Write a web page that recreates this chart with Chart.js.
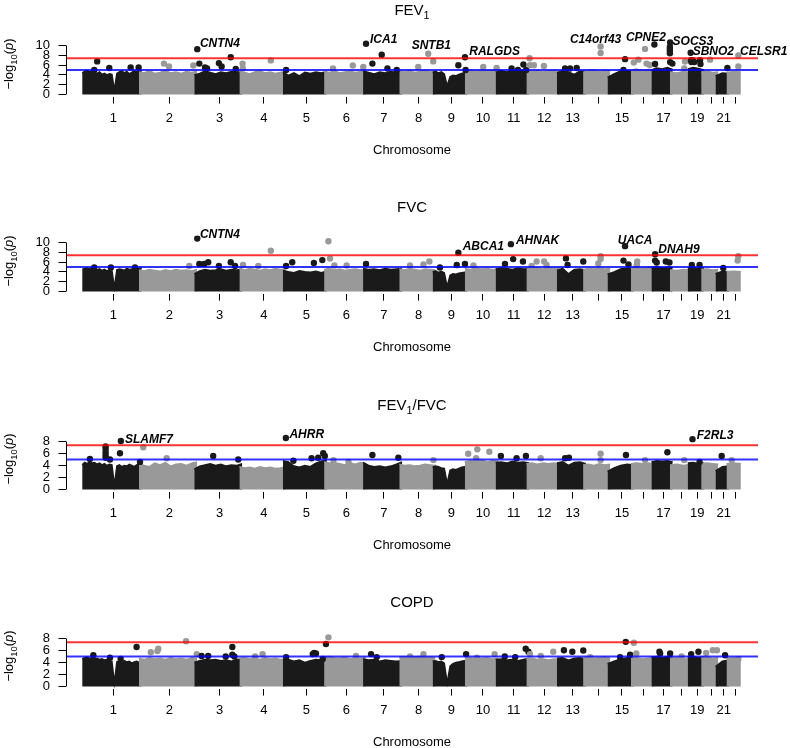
<!DOCTYPE html>
<html>
<head>
<meta charset="utf-8">
<script src="https://cdn.jsdelivr.net/npm/chart.js@4.4.0/dist/chart.umd.min.js"></script>
<style>
  html, body { margin: 0; padding: 0; background: #fff; overflow: hidden; }
  #wrap { position: relative; width: 790px; height: 748px; overflow: hidden; }
  .panel { position: absolute; left: 0; width: 790px; height: 197px; }
</style>
</head>
<body>
<div id="wrap">
  <div class="panel" style="top:0px"><canvas id="c0" width="790" height="197"></canvas></div>
  <div class="panel" style="top:197px"><canvas id="c1" width="790" height="197"></canvas></div>
  <div class="panel" style="top:395px"><canvas id="c2" width="790" height="197"></canvas></div>
  <div class="panel" style="top:592px"><canvas id="c3" width="790" height="197"></canvas></div>
</div>
<script>
/* ============================================================
   DATA
   ============================================================ */

// chromosome lengths (Mb) and the tick labels R kept
const chromLenMb = [249.25, 243.2, 198.0, 191.15, 180.9, 171.1, 159.1, 146.4, 141.2, 135.5, 135.0,
                    133.85, 115.2, 107.35, 102.5, 90.35, 81.2, 78.1, 59.1, 63.0, 48.1, 51.3];
const chromTickLabels = ['1', '2', '3', '4', '5', '6', '7', '8', '9', '10', '11', '12', '13', '',
                         '15', '', '17', '', '19', '', '21', ''];

const suggestiveLine = 5;     // -log10(1e-5)
const genomeWideLine = 7.4;

const yTicksTall  = [0, 2, 4, 6, 8, 10];
const yTicksShort = [0, 2, 4, 6, 8];

// top of the dense cloud of SNPs, per chromosome (-log10 p), left to right
const fev1Mass = [
  [4.4, 4.7, 4.9, 4.6, 4.8, 4.5, 4.3, 4.6, 4.1, 4.3, 4.0, 4.2, 4.1, 0.9, 4.3, 4.6, 4.8, 4.4, 4.7, 4.2, 4.5, 4.8, 4.6, 4.9, 4.7],
  [4.6, 4.4, 4.8, 4.3, 4.5, 4.9, 4.4, 4.6, 4.3, 4.7, 4.5, 4.8],
  [4.0, 4.3, 4.8, 4.5, 4.2, 4.6, 4.4, 4.7, 4.5, 4.8],
  [4.7, 4.5, 4.2, 4.6, 4.8, 4.4, 4.6, 4.3, 4.5, 4.7],
  [4.6, 3.9, 4.4, 3.8, 4.5, 4.3, 4.6, 4.4, 4.7],
  [4.7, 4.5, 4.8, 4.4, 4.6, 4.8, 4.5, 4.7, 4.9],
  [4.8, 4.5, 4.2, 4.6, 4.4, 4.7, 4.5, 4.8],
  [4.8, 4.6, 4.9, 4.5, 4.7, 4.9, 4.6, 4.8],
  [4.5, 4.7, 4.4, 4.6, 4.2, 1.8, 3.6, 3.9, 3.8, 4.1, 4.3, 4.5, 4.6],
  [4.8, 5.0, 4.7, 4.9, 4.8, 5.0, 4.8],
  [4.8, 4.9, 4.6, 4.9, 4.7, 5.0, 4.8],
  [4.9, 4.7, 4.9, 4.6, 4.8, 4.9, 4.7],
  [4.4, 4.9, 4.6, 4.1, 4.8, 4.7],
  [4.5, 4.9, 5.0, 4.7, 4.9, 4.8],
  [3.5, 4.2, 4.8, 4.9, 4.7],
  [4.9, 5.2, 4.8, 5.1, 5.0],
  [5.0, 5.4, 5.2, 5.5, 5.1],
  [4.6, 4.4, 4.7, 4.5],
  [5.2, 5.5, 5.3, 5.0],
  [4.6, 4.8, 4.5, 4.6],
  [3.8, 4.4, 4.3],
  [4.5, 4.7, 4.6],
];
const fvcMass = [
  [4.5, 4.7, 4.8, 4.6, 4.8, 4.7, 4.4, 4.6, 4.3, 4.5, 4.2, 4.4, 4.3, 0.8, 4.4, 4.6, 4.5, 4.3, 4.7, 4.5, 4.6, 4.8, 4.6, 4.7, 4.8],
  [4.4, 4.2, 4.5, 4.3, 4.1, 4.4, 4.2, 4.5, 4.3, 4.4, 4.2, 4.5],
  [3.6, 4.2, 4.5, 4.3, 4.4, 4.6, 4.3, 4.5, 4.4, 4.6],
  [4.6, 4.4, 4.7, 4.5, 4.3, 4.6, 4.4, 4.7, 4.5, 4.6],
  [4.3, 4.0, 3.8, 4.2, 4.0, 3.9, 4.1, 3.8, 4.2],
  [4.5, 4.7, 4.4, 4.6, 4.3, 4.5, 4.6, 4.4, 4.5],
  [4.7, 4.5, 4.6, 4.4, 4.7, 4.5, 4.6, 4.7],
  [4.6, 4.4, 4.7, 4.5, 4.3, 4.6, 4.5, 4.4],
  [4.0, 4.2, 3.9, 4.1, 3.8, 1.0, 3.3, 3.6, 3.5, 3.7, 3.8, 3.9, 4.0],
  [4.7, 4.5, 4.8, 4.6, 4.7, 4.5, 4.6],
  [4.6, 4.8, 4.7, 4.5, 4.8, 4.6, 4.7],
  [4.9, 4.7, 4.8, 4.6, 4.9, 4.7, 4.8],
  [4.3, 4.7, 3.6, 4.5, 4.6, 4.4],
  [4.5, 4.7, 4.6, 4.8, 4.6, 4.7],
  [3.5, 4.0, 4.6, 4.8, 4.6],
  [4.8, 4.9, 4.7, 4.9, 4.8],
  [4.9, 5.1, 4.8, 5.0, 4.9],
  [4.4, 4.3, 4.5, 4.4],
  [4.8, 4.9, 4.7, 4.8],
  [4.5, 4.6, 4.4, 4.5],
  [3.6, 4.1, 4.0],
  [4.0, 4.1, 4.0],
];
const ratioMass = [
  [4.1, 4.5, 4.3, 4.6, 4.4, 4.5, 4.2, 4.4, 4.1, 4.3, 4.0, 4.2, 4.1, 0.7, 3.9, 4.1, 3.8, 4.0, 3.9, 4.2, 4.0, 3.8, 4.1, 4.3, 4.4],
  [4.3, 4.0, 3.8, 4.4, 4.1, 4.5, 3.9, 4.2, 4.3, 4.0, 4.4, 4.6],
  [3.4, 3.9, 4.1, 4.3, 4.0, 4.2, 3.9, 4.1, 4.0, 4.3],
  [3.8, 3.6, 3.7, 3.5, 3.8, 3.6, 3.7, 3.5, 3.6, 3.8],
  [4.8, 4.6, 3.9, 3.7, 4.0, 3.8, 4.4, 4.7, 4.9],
  [4.6, 4.4, 4.5, 4.3, 4.1, 4.4, 4.2, 4.5, 4.3],
  [4.5, 4.0, 3.8, 3.9, 3.7, 3.9, 4.2, 4.6],
  [4.2, 4.0, 4.1, 3.9, 4.0, 4.2, 4.1, 4.0],
  [3.7, 3.9, 3.8, 3.6, 3.5, 1.0, 3.2, 3.4, 3.3, 3.5, 3.7, 3.8, 3.9],
  [4.6, 4.8, 4.7, 4.9, 4.6, 4.8, 4.7],
  [4.5, 4.6, 4.4, 4.7, 4.5, 4.6, 4.4],
  [4.3, 4.4, 4.2, 4.4, 4.3, 4.4, 4.2],
  [4.4, 4.6, 4.0, 4.5, 4.6, 4.3],
  [4.1, 4.2, 4.0, 4.3, 4.1, 4.2],
  [3.0, 3.6, 4.0, 4.2, 4.1],
  [4.3, 4.4, 4.3, 4.4, 4.2],
  [4.6, 4.8, 4.7, 4.8, 4.6],
  [4.1, 4.2, 4.0, 4.2],
  [4.4, 4.5, 4.3, 4.4],
  [4.3, 4.4, 4.3, 4.2],
  [3.1, 3.8, 3.9],
  [4.3, 4.4, 4.3],
];
const copdMass = [
  [4.6, 4.8, 4.9, 4.7, 4.8, 4.6, 4.7, 4.5, 4.6, 4.4, 4.5, 4.3, 4.2, 0.6, 4.1, 4.2, 4.0, 4.3, 4.1, 4.2, 3.9, 4.1, 4.2, 4.0, 4.3],
  [4.7, 4.5, 4.8, 4.6, 4.7, 4.5, 4.8, 4.6, 4.7, 4.5, 4.8, 4.7],
  [4.0, 4.3, 4.5, 4.4, 4.5, 4.3, 4.4, 4.2, 4.5, 4.6],
  [4.7, 4.8, 4.6, 4.7, 4.5, 4.8, 4.6, 4.7, 4.5, 4.6],
  [4.4, 4.5, 4.2, 4.4, 4.0, 4.3, 4.5, 4.4, 4.6],
  [4.9, 5.0, 4.8, 4.7, 4.9, 4.6, 4.8, 4.7, 4.9],
  [4.6, 4.4, 4.5, 4.2, 4.4, 4.3, 4.2, 4.3],
  [4.9, 5.0, 4.8, 4.9, 5.0, 4.8, 4.9, 4.8],
  [4.2, 4.3, 4.1, 4.2, 3.9, 0.6, 3.4, 3.8, 4.0, 4.1, 4.2, 4.3, 4.3],
  [4.7, 4.8, 4.6, 4.7, 4.8, 4.6, 4.7],
  [4.5, 4.6, 4.4, 4.5, 4.3, 4.5, 4.7],
  [4.6, 4.7, 4.5, 4.6, 4.4, 4.6, 4.5],
  [4.7, 4.8, 4.4, 4.7, 4.8, 4.6],
  [4.8, 4.9, 4.7, 4.8, 4.9, 4.7],
  [3.8, 4.2, 4.6, 4.8, 4.7],
  [4.7, 4.8, 4.6, 4.7, 4.8],
  [4.9, 5.0, 4.8, 5.0, 4.9],
  [4.7, 4.8, 4.6, 4.7],
  [4.9, 5.0, 4.8, 4.9],
  [4.8, 4.9, 4.7, 4.8],
  [3.3, 4.2, 4.4],
  [4.7, 4.8, 4.6],
];

// individual SNPs standing out of the cloud: [chromosome, position Mb, -log10 p]
const fev1Hits = [
  [1, 41, 5.0], [1, 54, 6.75], [1, 107, 5.4], [1, 201, 5.5], [1, 236, 5.5],
  [2, 98, 6.3], [2, 120, 5.7], [2, 227, 5.9],
  [3, 1, 9.25], [3, 10, 6.3], [3, 35, 5.5], [3, 44, 5.3], [3, 96, 6.4], [3, 108, 5.7], [3, 148, 7.6], [3, 170, 5.2],
  [4, 2, 6.3], [4, 3, 5.3], [4, 126, 6.95],
  [5, 2, 5.0],
  [6, 27, 5.3], [6, 114, 5.9], [6, 160, 5.6],
  [7, 1, 10.35], [7, 29, 6.3], [7, 70, 8.1], [7, 95, 5.3], [7, 136, 5.0],
  [8, 71, 5.6], [8, 115, 8.3], [8, 137, 6.75],
  [9, 101, 5.95], [9, 130, 7.6], [9, 133, 5.0],
  [10, 69, 5.6], [10, 128, 5.4],
  [11, 58, 5.3], [11, 86, 5.0], [11, 110, 6.1], [11, 122, 5.0],
  [12, 2, 7.4], [12, 4, 5.95], [12, 21, 5.95], [12, 65, 5.8],
  [13, 24, 5.3], [13, 46, 5.3], [13, 75, 5.4],
  [14, 65, 9.8], [14, 65, 8.45],
  [15, 58, 5.0], [15, 65, 7.2],
  [16, 1, 6.5], [16, 21, 7.1], [16, 50, 9.3], [16, 57, 6.3], [16, 71, 6.0],
  [17, 1, 10.2], [17, 4, 6.2], [17, 70, 10.6], [17, 69, 9.7], [17, 69, 9.3], [17, 69, 8.9], [17, 69, 8.4],
  [17, 70, 6.6], [17, 80, 6.3],
  [18, 51, 5.3], [18, 54, 6.7],
  [19, 1, 8.5], [19, 2, 7.0], [19, 4, 6.6], [19, 10, 7.0], [19, 17, 6.6], [19, 42, 7.0], [19, 44, 6.2],
  [20, 27, 7.1],
  [21, 40, 5.4],
  [22, 40, 7.95], [22, 40, 5.7],
];
const fvcHits = [
  [1, 41, 4.9], [1, 114, 4.9], [1, 220, 4.9],
  [2, 209, 5.2],
  [3, 1, 10.8], [3, 10, 5.6], [3, 31, 5.6], [3, 49, 5.95], [3, 96, 5.2], [3, 148, 5.95], [3, 167, 5.2],
  [4, 4, 5.4], [4, 71, 5.2], [4, 126, 8.3],
  [5, 2, 5.2], [5, 29, 5.95], [5, 124, 5.8], [5, 161, 6.4],
  [6, 7, 10.25], [6, 14, 6.7], [6, 33, 5.3], [6, 87, 5.3],
  [7, 1, 5.6],
  [8, 35, 5.3], [8, 94, 5.5], [8, 120, 6.1],
  [9, 20, 4.9], [9, 94, 5.4], [9, 101, 7.9], [9, 130, 5.6],
  [10, 26, 5.3],
  [11, 29, 5.6], [11, 55, 9.65], [11, 65, 6.6], [11, 108, 6.1],
  [12, 11, 5.2], [12, 33, 6.1], [12, 66, 6.1], [12, 77, 5.4],
  [13, 28, 6.75], [13, 35, 5.4], [13, 104, 6.1],
  [14, 55, 5.7], [14, 65, 7.2], [14, 65, 6.6],
  [15, 58, 6.3], [15, 65, 9.25], [15, 80, 5.5],
  [16, 14, 5.4], [16, 16, 6.1],
  [17, 4, 7.6], [17, 4, 6.3], [17, 11, 5.9], [17, 51, 6.1], [17, 67, 5.9],
  [19, 6, 5.4], [19, 40, 5.4],
  [21, 22, 4.8],
  [22, 37, 6.3], [22, 40, 7.2],
];
const ratioHits = [
  [1, 22, 5.1], [1, 91, 7.2], [1, 91, 6.8], [1, 91, 6.2], [1, 91, 5.7], [1, 91, 5.3], [1, 110, 5.0],
  [1, 154, 6.05], [1, 158, 8.1], [1, 242, 4.6],
  [2, 7, 7.05], [2, 110, 5.2],
  [3, 71, 5.6], [3, 181, 5.0],
  [5, 1, 8.6], [5, 34, 4.8], [5, 114, 5.2], [5, 143, 5.3], [5, 165, 6.05], [5, 172, 5.6],
  [6, 29, 4.9], [6, 95, 4.6],
  [7, 29, 5.75], [7, 143, 5.3],
  [8, 138, 4.9],
  [10, 3, 5.95], [10, 38, 5.2], [10, 43, 6.7], [10, 96, 6.3],
  [11, 11, 5.6], [11, 80, 5.2], [11, 121, 5.6],
  [12, 51, 5.2],
  [13, 24, 5.2], [13, 41, 5.3],
  [14, 65, 5.95], [14, 65, 4.9],
  [15, 69, 5.75],
  [16, 50, 4.9],
  [17, 58, 6.2],
  [18, 51, 4.9],
  [19, 9, 8.4], [19, 40, 4.6],
  [21, 15, 5.6],
  [22, 11, 4.9],
];
const copdHits = [
  [1, 37, 5.2], [1, 110, 4.8], [1, 157, 4.6], [1, 227, 6.6],
  [2, 40, 5.7], [2, 69, 5.9], [2, 73, 6.3], [2, 195, 7.55], [2, 242, 5.4],
  [3, 20, 5.1], [3, 49, 5.1], [3, 126, 5.0], [3, 155, 6.6], [3, 155, 5.3], [3, 164, 5.0],
  [4, 57, 5.0], [4, 90, 5.4],
  [5, 2, 4.9], [5, 119, 5.4], [5, 125, 5.6], [5, 133, 5.5], [5, 163, 4.6], [5, 177, 7.1],
  [6, 7, 8.2], [6, 128, 5.1],
  [7, 23, 5.4], [7, 48, 4.9],
  [8, 35, 5.0], [8, 94, 5.4],
  [9, 28, 4.9], [9, 135, 5.4],
  [10, 41, 4.8], [10, 119, 5.4],
  [11, 28, 5.0], [11, 74, 4.9], [11, 120, 6.3], [11, 132, 5.8],
  [12, 4, 5.4], [12, 51, 5.1], [12, 106, 5.8],
  [13, 19, 6.05], [13, 56, 5.8], [13, 104, 6.0],
  [14, 19, 4.9],
  [15, 43, 4.9], [15, 68, 7.45], [15, 87, 5.3],
  [16, 1, 7.3], [16, 12, 5.5],
  [17, 23, 5.8], [17, 26, 5.5], [17, 70, 5.5],
  [18, 39, 5.0],
  [19, 3, 5.4], [19, 35, 5.8],
  [20, 10, 5.6], [20, 39, 6.05], [20, 57, 6.05],
  [21, 30, 5.2],
  [22, 40, 4.6],
];

// gene labels: [text, genome position Mb of text start, -log10 p of baseline]
const fev1Labels = [
  ['CNTN4', 505, 9.6], ['ICA1', 1252, 10.5], ['SNTB1', 1435, 9.2], ['RALGDS', 1688, 8.0],
  ['C14orf43', 2130, 10.55], ['CPNE2', 2376, 10.9], ['SOCS3', 2581, 10.0], ['SBNO2', 2669, 8.0],
  ['CELSR1', 2877, 8.0],
];
const fvcLabels = [
  ['CNTN4', 505, 10.9], ['ABCA1', 1659, 8.45], ['AHNAK', 1893, 9.6], ['UACA', 2340, 9.65], ['DNAH9', 2518, 7.85],
];
const ratioLabels = [['SLAMF7', 176, 7.75], ['AHRR', 898, 8.65], ['F2RL3', 2687, 8.35]];
const copdLabels = [];

/* ============================================================
   SETUP
   ============================================================ */

const FONT  = '"Liberation Sans", Arial, Helvetica, sans-serif';
const BLACK = '#1a1a1a';
const GREY  = '#999999';
const EDGE_MB = 12;           // half a dot at the left edge of each chromosome
const X_MIN = -83, X_MAX = 2956;

const chromStart = [];
chromLenMb.reduce((acc, l) => { chromStart.push(acc); return acc + l; }, 0);
const chromMid = chromStart.map((s, i) => s + chromLenMb[i] / 2);
const chromColor = c => (c % 2 === 1 ? BLACK : GREY);

const panels = [
  { id: 'c0', title: [{ t: 'FEV' }, { t: '1', sub: true }], mass: fev1Mass, hits: fev1Hits, labels: fev1Labels, top: 11, yTicks: yTicksTall },
  { id: 'c1', title: [{ t: 'FVC' }], mass: fvcMass, hits: fvcHits, labels: fvcLabels, top: 11, yTicks: yTicksTall },
  { id: 'c2', title: [{ t: 'FEV' }, { t: '1', sub: true }, { t: '/FVC' }], mass: ratioMass, hits: ratioHits, labels: ratioLabels, top: 9, yTicks: yTicksShort },
  { id: 'c3', title: [{ t: 'COPD' }], mass: copdMass, hits: copdHits, labels: copdLabels, top: 9, yTicks: yTicksShort },
];

const yTitle = [{ t: '\u2212log' }, { t: '10', sub: true }, { t: '(' }, { t: 'p', it: true }, { t: ')' }];

function segFont(s, size) {
  return (s.it ? 'italic ' : '') + (s.sub ? size * 0.72 : size) + 'px ' + FONT;
}
function richWidth(ctx, segs, size) {
  let w = 0;
  segs.forEach(s => { ctx.font = segFont(s, size); w += ctx.measureText(s.t).width; });
  return w;
}
function drawRich(ctx, segs, x, y, size) {
  let cx = x - richWidth(ctx, segs, size) / 2;
  segs.forEach(s => {
    ctx.font = segFont(s, size);
    ctx.fillText(s.t, cx, y + (s.sub ? size * 0.28 : 0));
    cx += ctx.measureText(s.t).width;
  });
}

function makeDecor(p) {
  return {
    id: 'decor' + p.id,
    afterDatasetsDraw(chart) {
      const { ctx, chartArea: a, scales: { x, y } } = chart;
      ctx.save();
      [[genomeWideLine, 'rgba(255,0,0,0.8)'], [suggestiveLine, 'rgba(0,0,255,0.8)']].forEach(([v, c]) => {
        const py = y.getPixelForValue(v);
        ctx.strokeStyle = c;
        ctx.lineWidth = 2;
        ctx.beginPath(); ctx.moveTo(a.left, py); ctx.lineTo(a.right, py); ctx.stroke();
      });
      ctx.fillStyle = '#000';
      ctx.font = 'italic bold 12px ' + FONT;
      ctx.textAlign = 'left';
      ctx.textBaseline = 'alphabetic';
      p.labels.forEach(([t, mb, v]) => ctx.fillText(t, x.getPixelForValue(mb), y.getPixelForValue(v)));
      ctx.restore();
    },
    afterDraw(chart) {
      const { ctx, chartArea: a, scales: { y } } = chart;
      ctx.save();
      // y axis line, only between the first and last tick (R style)
      ctx.strokeStyle = '#000';
      ctx.lineWidth = 1;
      ctx.beginPath();
      ctx.moveTo(a.left + 0.5, y.getPixelForValue(p.yTicks[0]));
      ctx.lineTo(a.left + 0.5, y.getPixelForValue(p.yTicks[p.yTicks.length - 1]));
      ctx.stroke();
      ctx.fillStyle = '#000';
      ctx.textAlign = 'left';
      ctx.textBaseline = 'alphabetic';
      drawRich(ctx, p.title, (a.left + a.right) / 2, 14.5, 15);
      ctx.translate(13, 64);
      ctx.rotate(-Math.PI / 2);
      drawRich(ctx, yTitle, 0, 0, 13);
      ctx.restore();
    },
  };
}

/* ============================================================
   CHARTS
   ============================================================ */

panels.forEach(p => {
  const massSets = p.mass.map((prof, i) => ({
    type: 'scatter',
    showLine: true,
    data: prof.map((h, j) => ({
      x: chromStart[i] - EDGE_MB + (chromLenMb[i] + EDGE_MB) * j / (prof.length - 1),
      y: h,
    })),
    borderColor: chromColor(i + 1),
    backgroundColor: chromColor(i + 1),
    borderWidth: 1.5,
    pointRadius: 0,
    tension: 0,
    fill: 'origin',
    order: 40 - i,
  }));

  const hitSet = {
    type: 'scatter',
    data: p.hits.map(([c, pos, v]) => ({ x: chromStart[c - 1] + pos, y: v })),
    pointBackgroundColor: p.hits.map(([c]) => chromColor(c)),
    pointBorderWidth: 0,
    pointRadius: 3.2,
    order: 0,
  };

  new Chart(document.getElementById(p.id), {
    type: 'scatter',
    data: { datasets: [...massSets, hitSet] },
    options: {
      responsive: false,
      animation: false,
      devicePixelRatio: 1,
      events: [],
      layout: { padding: { top: 38.4, right: 32, bottom: 0, left: 0 } },
      plugins: { legend: { display: false }, tooltip: { enabled: false }, title: { display: false } },
      scales: {
        x: {
          type: 'linear',
          min: X_MIN,
          max: X_MAX,
          afterBuildTicks: s => { s.ticks = chromMid.map(v => ({ value: v })); },
          afterFit: s => { s.height = 100.4; },
          ticks: {
            autoSkip: false, maxRotation: 0, minRotation: 0, color: '#000', padding: 7,
            font: { family: FONT, size: 13 },
            callback: (v, i) => chromTickLabels[i],
          },
          grid: { drawOnChartArea: false, drawTicks: true, tickLength: 7, color: '#000', lineWidth: 1 },
          border: { display: false },
          title: {
            display: true, text: 'Chromosome', color: '#000',
            font: { family: FONT, size: 13 }, padding: { top: 0, bottom: 38.5 },
          },
        },
        y: {
          type: 'linear',
          min: -0.04 * p.top,
          max: 1.04 * p.top,
          afterBuildTicks: s => { s.ticks = p.yTicks.map(v => ({ value: v })); },
          afterFit: s => { s.width = 66; },
          ticks: { autoSkip: false, color: '#000', padding: 8.5, font: { family: FONT, size: 13 } },
          grid: { drawOnChartArea: false, drawTicks: true, tickLength: 7.5, color: '#000', lineWidth: 1 },
          border: { display: false },
        },
      },
    },
    plugins: [makeDecor(p)],
  });
});
</script>
</body>
</html>
